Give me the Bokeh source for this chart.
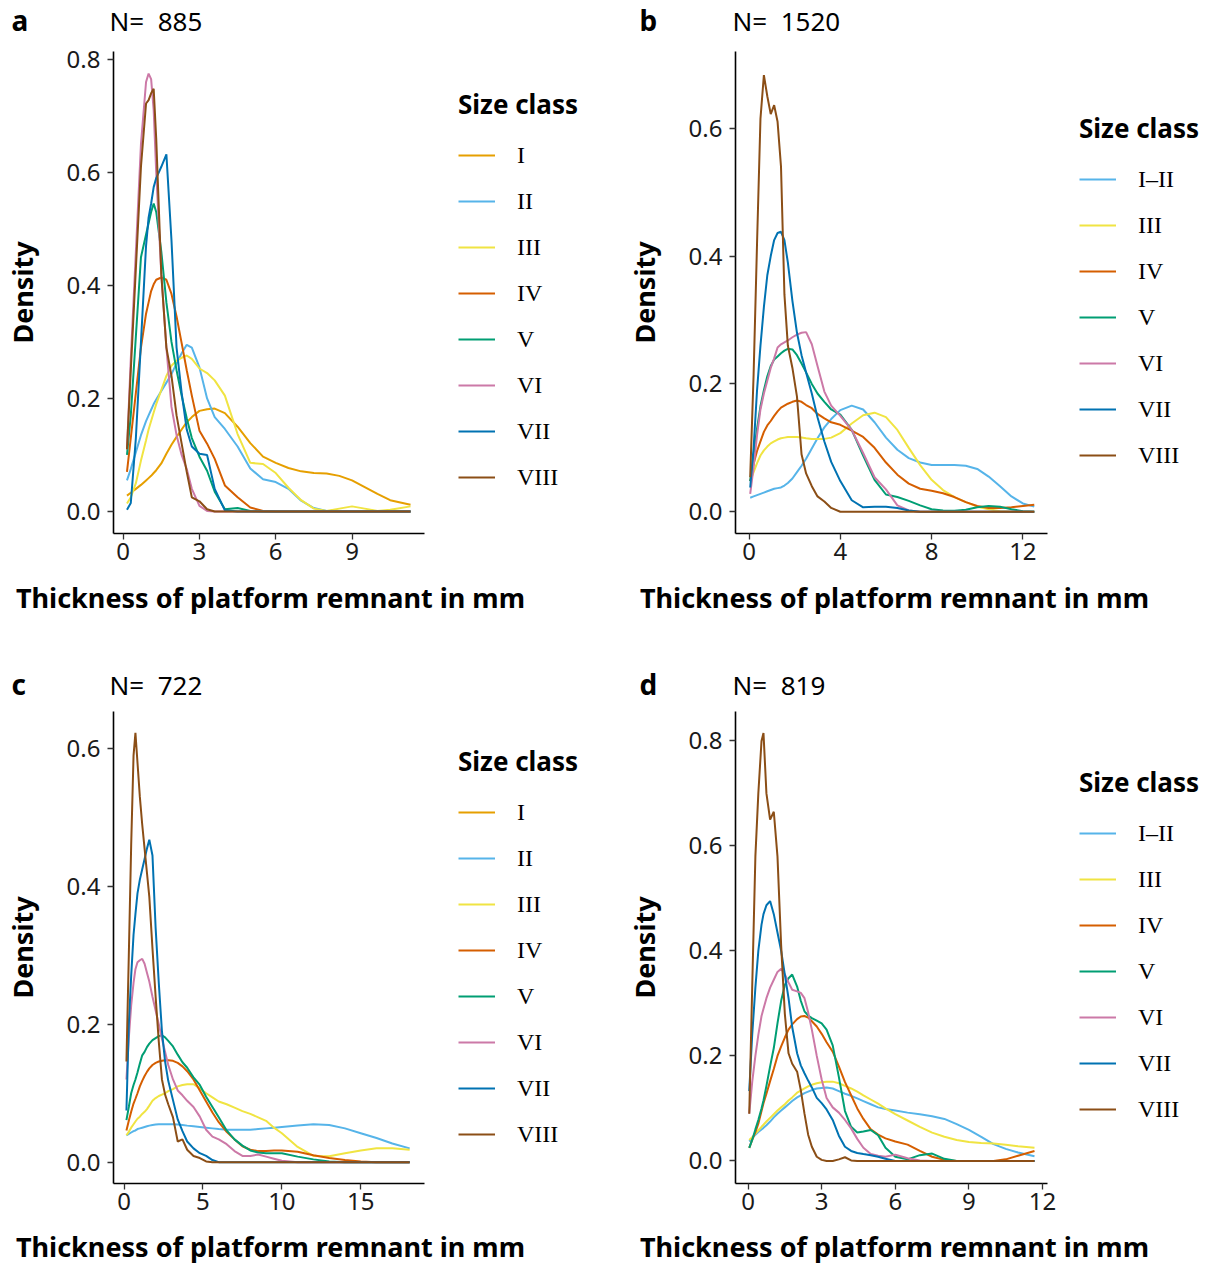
import numpy as np
from bokeh.plotting import figure
from bokeh.models import Range1d, FixedTicker, PrintfTickFormatter, Legend, LegendItem
from bokeh.core.properties import value
from bokeh.layouts import row, column
from bokeh.embed import file_html
from bokeh.resources import INLINE

SANS = "Noto Sans"
SERIF = "Liberation Serif"

COLORS = {"I": "#E69F00", "II": "#56B4E9", "I–II": "#56B4E9", "III": "#F0E442",
          "IV": "#D55E00", "V": "#009E73", "VI": "#CC79A7", "VII": "#0072B2",
          "VIII": "#8B4E16"}

# ---------------- panel a (N = 885) ----------------
A_N = "N=\u00a0 885"
A_X = [0.15, 0.3, 0.5, 0.7, 0.9, 1.0, 1.1, 1.2, 1.3, 1.5, 1.7, 1.9, 2.1, 2.3, 2.5, 2.7, 3.0,
       3.3, 3.6, 4.0, 4.5, 5.0, 5.5, 6.0, 6.5, 7.0, 7.5, 8.0, 8.5, 9.0, 9.5, 10.0, 10.5, 11.3]
A_I = [.028, .033, .040, .047, .055, .059, .063, .068, .073, .085, .102, .118, .132, .145, .158, .167, .178,
       .181, .182, .174, .150, .121, .097, .086, .077, .071, .068, .067, .063, .055, .043, .031, .020, .012]
A_II = [.055, .075, .105, .135, .160, .170, .180, .190, .198, .213, .228, .243, .262, .280, .295, .290, .255,
        .200, .167, .146, .115, .076, .057, .052, .040, .019, .006, .001, 0, 0, 0, 0, 0, 0]
A_III = [.014, .025, .050, .090, .126, .145, .160, .175, .190, .215, .240, .258, .267, .272, .276, .270, .253,
         .245, .232, .205, .137, .086, .084, .068, .042, .020, .005, .001, .005, .009, .005, .001, .003, .009]
A_IV = [.070, .130, .210, .290, .350, .370, .390, .402, .410, .414, .410, .385, .345, .298, .250, .205, .143,
        .120, .093, .046, .025, .007, .001, 0, 0, 0, 0, 0, 0, 0, 0, 0, 0, 0]
A_V = [.100, .170, .310, .450, .490, .510, .530, .545, .530, .460, .370, .300, .250, .205, .165, .130, .097,
       .072, .035, .004, .006, .001, 0, 0, 0, 0, 0, 0, 0, 0, 0, 0, 0, 0]
A_VI = [.110, .270, .460, .650, .760, .775, .765, .710, .600, .420, .290, .185, .135, .100, .075, .040, .010,
        .001, 0, 0, 0, 0, 0, 0, 0, 0, 0, 0, 0, 0, 0, 0, 0, 0]
A_VII = [.003, .015, .130, .300, .470, .520, .545, .574, .590, .610, .632, .480, .290, .210, .145, .115, .102,
         .100, .040, .002, 0, 0, 0, 0, 0, 0, 0, 0, 0, 0, 0, 0, 0, 0]
A_VIII = [.110, .250, .430, .610, .722, .728, .740, .748, .660, .420, .290, .240, .170, .120, .070, .025, .018,
          .004, 0, 0, 0, 0, 0, 0, 0, 0, 0, 0, 0, 0, 0, 0, 0, 0]
A_XTICKS = [0, 3, 6, 9]
A_YTICKS = [0, 0.2, 0.4, 0.6, 0.8]

# ---------------- panel b (N = 1520) ----------------
B_N = "N=\u00a0 1520"
B_X = [0.05, 0.2, 0.35, 0.5, 0.65, 0.8, 0.95, 1.1, 1.25, 1.4, 1.55, 1.7, 1.9, 2.1, 2.3, 2.5, 2.75, 3.0,
       3.3, 3.6, 4.0, 4.5, 5.0, 5.5, 6.0, 6.5, 7.0, 7.5, 8.0, 8.5, 9.0, 9.5, 10.0, 10.5, 11.0, 11.5, 12.0, 12.5]
B_I_II = [.022, .024, .026, .028, .030, .032, .034, .036, .037, .038, .041, .045, .052, .062, .072, .083, .099,
          .115, .132, .145, .159, .166, .160, .140, .116, .097, .084, .077, .073, .073, .073, .072, .067, .055,
          .040, .024, .013, .008]
B_III = [.048, .062, .076, .088, .096, .102, .107, .110, .113, .115, .116, .117, .117, .117, .116, .115, .114,
         .114, .114, .116, .123, .138, .151, .155, .148, .128, .100, .073, .050, .034, .023, .015, .008, .004,
         .001, 0, 0, 0]
B_IV = [.048, .075, .095, .110, .125, .135, .142, .150, .157, .163, .166, .169, .172, .174, .172, .167, .162,
        .153, .146, .140, .136, .127, .117, .100, .077, .058, .044, .036, .033, .029, .023, .015, .009, .006,
        .006, .007, .009, .011]
B_V = [.048, .090, .130, .165, .190, .212, .228, .238, .243, .248, .252, .255, .254, .245, .232, .218, .200,
       .185, .172, .160, .152, .128, .088, .050, .027, .023, .017, .010, .004, .002, .0015, .003, .007, .009,
       .008, .004, .001, 0]
B_VI = [.028, .070, .120, .160, .185, .205, .225, .240, .257, .262, .265, .268, .273, .277, .280, .281, .262,
        .228, .188, .166, .150, .128, .092, .054, .035, .010, .002, 0, 0, 0, 0, 0, 0, 0, 0, 0, 0, 0]
B_VII = [.038, .100, .190, .260, .320, .370, .400, .425, .436, .438, .425, .390, .330, .280, .245, .218, .185,
         .148, .110, .078, .048, .018, .007, .008, .008, .006, .002, 0, 0, 0, 0, 0, 0, 0, 0, 0, 0, 0]
B_VIII = [.054, .215, .420, .615, .683, .650, .622, .636, .610, .540, .340, .260, .225, .180, .090, .060, .040,
          .024, .016, .006, 0, 0, 0, 0, 0, 0, 0, 0, 0, 0, 0, 0, 0, 0, 0, 0, 0, 0]
B_XTICKS = [0, 4, 8, 12]
B_YTICKS = [0, 0.2, 0.4, 0.6]

# ---------------- panel c (N = 722) ----------------
C_N = "N=\u00a0 722"
C_X = [0.15, 0.3, 0.45, 0.6, 0.72, 0.85, 1.0, 1.15, 1.3, 1.45, 1.6, 1.8, 2.0, 2.2, 2.4, 2.6, 2.8, 3.1, 3.4,
       3.7, 4.0, 4.4, 4.8, 5.2, 5.6, 6.0, 6.5, 7.0, 7.5, 8.0, 8.5, 9.0, 9.5, 10.0, 11.0, 12.0, 13.0, 14.0,
       15.0, 16.0, 17.0, 18.1]
C_I = []
C_II = [.039, .041, .043, .045, .046, .048, .049, .050, .051, .052, .053, .054, .0545, .055, .055, .055, .055,
        .055, .0545, .054, .053, .052, .051, .050, .049, .048, .047, .047, .047, .047, .048, .049, .050, .051,
        .053, .055, .054, .049, .042, .035, .027, .020]
C_III = [.039, .044, .050, .055, .059, .063, .066, .070, .073, .077, .082, .089, .093, .096, .098, .100, .103,
         .106, .110, .112, .113, .113, .107, .100, .094, .088, .084, .079, .074, .070, .065, .060, .050, .042,
         .022, .009, .0085, .013, .017, .020, .020, .018]
C_IV = [.046, .060, .073, .085, .092, .100, .110, .118, .125, .131, .136, .141, .144, .146, .147, .148, .148,
        .147, .144, .139, .132, .120, .104, .088, .072, .058, .044, .033, .023, .018, .016, .016, .017, .017,
        .015, .010, .006, .003, .001, 0, 0, 0]
C_V = [.061, .080, .100, .112, .120, .130, .143, .155, .160, .167, .172, .177, .180, .183, .184, .181, .176,
       .168, .156, .145, .137, .123, .112, .095, .080, .065, .046, .033, .024, .017, .014, .013, .013, .013,
       .008, .004, .001, 0, 0, 0, 0, 0]
C_VI = [.120, .180, .227, .260, .280, .290, .293, .295, .288, .275, .262, .240, .220, .200, .179, .160, .141,
        .120, .104, .097, .089, .080, .066, .047, .037, .033, .026, .016, .009, .009, .011, .008, .005, .002,
        0, 0, 0, 0, 0, 0, 0, 0]
C_VII = [.075, .200, .270, .330, .360, .390, .410, .425, .440, .455, .468, .445, .340, .260, .190, .146, .118,
         .090, .062, .045, .030, .020, .013, .009, .003, 0, 0, 0, 0, 0, 0, 0, 0, 0, 0, 0, 0, 0, 0, 0, 0, 0]
C_VIII = [.146, .300, .460, .590, .623, .580, .530, .490, .455, .420, .385, .310, .240, .175, .120, .098, .084,
          .065, .030, .033, .018, .009, .006, .001, 0, 0, 0, 0, 0, 0, 0, 0, 0, 0, 0, 0, 0, 0, 0, 0, 0, 0]
C_XTICKS = [0, 5, 10, 15]
C_YTICKS = [0, 0.2, 0.4, 0.6]

# ---------------- panel d (N = 819) ----------------
D_N = "N=\u00a0 819"
D_X = [0.05, 0.17, 0.3, 0.42, 0.55, 0.63, 0.75, 0.9, 1.05, 1.2, 1.35, 1.5, 1.65, 1.8, 2.0, 2.15, 2.3, 2.45,
       2.6, 2.8, 3.0, 3.2, 3.45, 3.7, 3.95, 4.2, 4.45, 4.7, 5.0, 5.3, 5.6, 6.0, 6.5, 7.0, 7.5, 8.0, 8.5, 9.0,
       9.5, 10.0, 10.5, 11.0, 11.67]
D_I_II = [.037, .043, .050, .055, .060, .063, .068, .075, .083, .090, .096, .102, .108, .114, .121, .125, .129,
          .132, .135, .138, .139, .140, .138, .133, .128, .124, .119, .114, .108, .102, .099, .096, .092, .089,
          .085, .080, .070, .059, .046, .032, .023, .016, .009]
D_III = [.040, .045, .052, .058, .065, .069, .075, .082, .089, .096, .102, .108, .115, .121, .130, .134, .138,
         .142, .145, .148, .150, .151, .151, .148, .143, .138, .132, .125, .117, .109, .100, .089, .077, .065,
         .054, .046, .040, .036, .034, .033, .031, .028, .025]
D_IV = [.025, .040, .055, .071, .095, .110, .128, .152, .175, .200, .218, .235, .250, .260, .270, .275, .276,
        .273, .266, .256, .242, .226, .208, .180, .150, .125, .100, .080, .060, .050, .043, .037, .031, .019,
        .008, .002, 0, 0, 0, 0, .003, .010, .019]
D_V = [.025, .040, .060, .078, .100, .115, .143, .180, .215, .262, .305, .335, .348, .355, .332, .305, .285,
       .277, .272, .267, .262, .250, .220, .160, .095, .065, .054, .056, .059, .049, .025, .008, .003, .011,
       .014, .004, 0, 0, 0, 0, 0, 0, 0]
D_VI = [.090, .150, .200, .240, .276, .290, .310, .330, .345, .360, .366, .355, .340, .326, .323, .320, .310,
        .283, .250, .200, .155, .120, .102, .092, .078, .062, .042, .025, .013, .010, .008, .012, .005, .001,
        0, 0, 0, 0, 0, 0, 0, 0, 0]
D_VII = [.133, .240, .330, .400, .450, .470, .487, .495, .470, .435, .400, .355, .310, .255, .205, .182, .167,
         .153, .140, .120, .110, .098, .078, .048, .027, .019, .015, .013, .011, .008, .004, 0, 0, 0, 0, 0, 0,
         0, 0, 0, 0, 0, 0]
D_VIII = [.090, .330, .580, .700, .800, .815, .700, .650, .665, .580, .410, .280, .205, .185, .170, .135, .090,
          .050, .027, .008, .002, 0, 0, .003, .007, .001, 0, 0, 0, 0, 0, 0, 0, 0, 0, 0, 0, 0, 0, 0, 0, 0, 0]
D_XTICKS = [0, 3, 6, 9, 12]
D_YTICKS = [0, 0.2, 0.4, 0.6, 0.8]

X_TITLE = "Thickness of platform remnant in mm"
Y_TITLE = "Density"
LEGEND_TITLE = "Size class"

TOTAL_W = 1201
FW = 322          # frame width of every panel
LEFT_W = 622      # width of the left column


def bare_figure(width, height, x_range, y_range):
    f = figure(width=width, height=height, x_range=x_range, y_range=y_range,
               output_backend="svg", toolbar_location=None,
               min_border_left=0, min_border_right=0, min_border_top=0, min_border_bottom=0)
    f.axis.visible = False
    f.grid.visible = False
    f.outline_line_color = None
    return f


def make_header(height, letters, letter_xy, titles, title_xy):
    h = bare_figure(TOTAL_W, height, Range1d(0, TOTAL_W), Range1d(height, 0))
    h.text(x=[p[0] for p in letter_xy], y=[p[1] for p in letter_xy], text=letters,
           text_font=value(SANS), text_font_style="bold", text_font_size="28px",
           text_baseline="middle", text_align="left", text_color="black")
    h.text(x=[p[0] for p in title_xy], y=[p[1] for p in title_xy], text=titles,
           text_font=value(SANS), text_font_style="normal", text_font_size="26px",
           text_baseline="middle", text_align="left", text_color="black")
    return h


def make_xtitle(width, height, cx, cy):
    t = bare_figure(width, height, Range1d(0, width), Range1d(height, 0))
    t.text(x=[cx], y=[cy], text=[X_TITLE], text_font=value(SANS), text_font_style="bold",
           text_font_size="27px", text_baseline="middle", text_align="center", text_color="black")
    return t


def make_legend(width, height, names, xy):
    # its frame is aligned with the neighbouring panel's frame by the row layout
    f = bare_figure(width, height, Range1d(0, 1), Range1d(0, 1))
    items = []
    for name in names:
        r = f.line(np.array([np.nan, np.nan]), np.array([np.nan, np.nan]),
                   line_color=COLORS[name], line_width=2)
        items.append(LegendItem(label=name, renderers=[r]))
    legend = Legend(items=items, location=xy, orientation="vertical",
                    title=LEGEND_TITLE, title_text_font=SANS, title_text_font_style="bold",
                    title_text_font_size="26px", title_text_color="black", title_standoff=10,
                    label_text_font=SERIF, label_text_font_size="24px", label_text_color="black",
                    glyph_width=37, glyph_height=46, label_height=46, spacing=0,
                    padding=0, margin=0, label_standoff=22,
                    border_line_color=None, background_fill_alpha=0)
    f.add_layout(legend)
    return f


def make_panel(xs, series, x_lim, y_lim, x_ticks, y_ticks, height, left, top, fh):
    right = 10
    p = figure(width=left + FW + right, height=height,
               x_range=Range1d(*x_lim), y_range=Range1d(*y_lim),
               output_backend="svg", toolbar_location=None,
               min_border_left=left, min_border_top=top,
               min_border_right=right, min_border_bottom=height - top - fh)
    p.grid.visible = False
    p.outline_line_color = None
    p.background_fill_color = "white"
    p.border_fill_color = "white"

    for name, ys in series:
        if ys:
            p.line(xs, ys, line_color=COLORS[name], line_width=2)

    p.xaxis.ticker = FixedTicker(ticks=x_ticks)
    p.yaxis.ticker = FixedTicker(ticks=y_ticks)
    p.yaxis.formatter = PrintfTickFormatter(format="%.1f")
    for ax in (p.xaxis[0], p.yaxis[0]):
        ax.axis_line_color = "black"
        ax.axis_line_width = 1.6
        ax.major_tick_line_color = "#333333"
        ax.major_tick_line_width = 1.3
        ax.major_tick_out = 6
        ax.major_tick_in = 0
        ax.minor_tick_line_color = None
        ax.major_label_text_font = SANS
        ax.major_label_text_font_size = "24px"
        ax.major_label_text_color = "#1a1a1a"
        ax.axis_label_text_font = SANS
        ax.axis_label_text_font_style = "bold"
        ax.axis_label_text_font_size = "27px"
        ax.axis_label_text_color = "black"
    p.yaxis.axis_label = Y_TITLE
    p.xaxis.major_label_standoff = 3
    p.yaxis.major_label_standoff = 7
    p.yaxis.axis_label_standoff = 23
    return p


def panel_block(panel, legend, xtitle):
    return column(row(panel, legend), xtitle)


NAMES_AC = ["I", "II", "III", "IV", "V", "VI", "VII", "VIII"]
NAMES_BD = ["I–II", "III", "IV", "V", "VI", "VII", "VIII"]

LA_W = LEFT_W - (102 + FW + 10)
LB_W = TOTAL_W - LEFT_W - (103 + FW + 10)

# ---- row 1 ----
P1 = 538
hdr1 = make_header(40, ["a", "b"], [(11, 19), (639, 19)], [A_N, B_N], [(109, 20), (732, 20)])
pa = make_panel(A_X, list(zip(NAMES_AC, [A_I, A_II, A_III, A_IV, A_V, A_VI, A_VII, A_VIII])),
                (-0.38, 11.85), (-0.039, 0.814), A_XTICKS, A_YTICKS, P1, 102, 11, 482)
la = make_legend(LA_W, P1, NAMES_AC, (24, 33))
ta = make_xtitle(LEFT_W, 80, 102 + FW / 2 + 7, 19)
pb = make_panel(B_X, list(zip(NAMES_BD, [B_I_II, B_III, B_IV, B_V, B_VI, B_VII, B_VIII])),
                (-0.594, 13.08), (-0.034, 0.72), B_XTICKS, B_YTICKS, P1, 103, 11, 482)
lb = make_legend(LB_W, P1, NAMES_BD, (22, 55))
tb = make_xtitle(TOTAL_W - LEFT_W, 80, 103 + FW / 2 + 8, 19)

# ---- row 2 ----
P2 = 525
hdr2 = make_header(44, ["c", "d"], [(11, 25), (639, 25)], [C_N, D_N], [(109, 26), (732, 26)])
pc = make_panel(C_X, list(zip(NAMES_AC, [C_I, C_II, C_III, C_IV, C_V, C_VI, C_VII, C_VIII])),
                (-0.67, 19.04), (-0.031, 0.654), C_XTICKS, C_YTICKS, P2, 102, 9, 472)
lc = make_legend(LA_W, P2, NAMES_AC, (24, 26))
tc = make_xtitle(LEFT_W, 38, 102 + FW / 2 + 7, 19)
pd_ = make_panel(D_X, list(zip(NAMES_BD, [D_I_II, D_III, D_IV, D_V, D_VI, D_VII, D_VIII])),
                 (-0.51, 12.2), (-0.043, 0.856), D_XTICKS, D_YTICKS, P2, 103, 9, 472)
ld = make_legend(LB_W, P2, NAMES_BD, (22, 51))
td = make_xtitle(TOTAL_W - LEFT_W, 38, 103 + FW / 2 + 8, 19)

layout = column(hdr1,
                row(panel_block(pa, la, ta), panel_block(pb, lb, tb)),
                hdr2,
                row(panel_block(pc, lc, tc), panel_block(pd_, ld, td)))
open("out.html", "w").write(file_html(layout, INLINE))
